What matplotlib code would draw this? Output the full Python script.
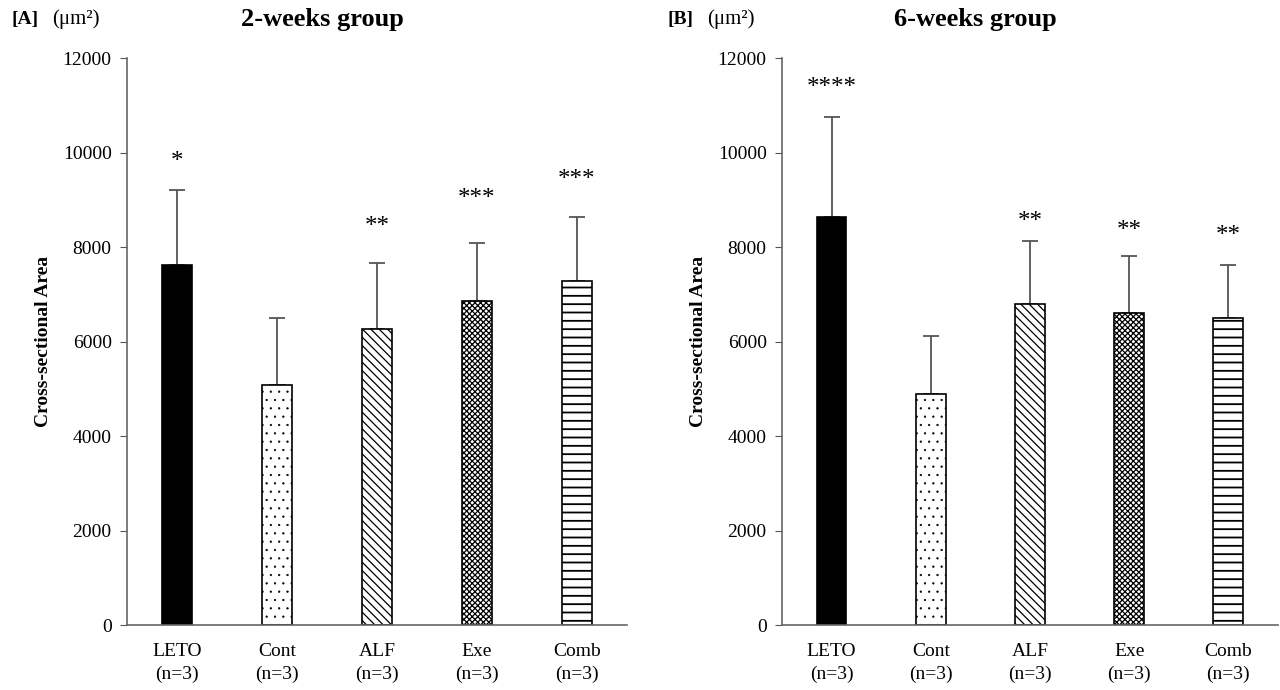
import numpy as np
import matplotlib.pyplot as plt

plt.rcParams['font.family'] = ['Liberation Serif', 'DejaVu Serif']

groups = ['LETO\n(n=3)', 'Cont\n(n=3)', 'ALF\n(n=3)', 'Exe\n(n=3)', 'Comb\n(n=3)']
hatches = ['', '..', '\\\\\\\\', 'xxxxxx', '--']
hatch_lw = [1.0, 0.4, 0.9, 0.9, 1.3]
faces = ['black', 'white', 'white', 'white', 'white']

# 2-weeks group
mean_2w = [7620, 5080, 6265, 6865, 7280]
sd_2w = [1585, 1420, 1400, 1220, 1360]
stars_2w = ['*', '', '**', '***', '***']
star_y_2w = [9800, None, 8420, 9020, 9420]

# 6-weeks group
mean_6w = [8640, 4890, 6790, 6600, 6505]
sd_6w = [2120, 1235, 1340, 1210, 1115]
stars_6w = ['****', '', '**', '**', '**']
star_y_6w = [11370, None, 8520, 8330, 8240]

fig = plt.figure(figsize=(12.8, 6.9), dpi=100)
ax1 = fig.add_axes([0.0992, 0.0942, 0.3906, 0.8217])
ax2 = fig.add_axes([0.6109, 0.0942, 0.3875, 0.8217])

def draw_panel(ax, means, sds, stars, star_y, title, tag):
    x = np.arange(len(groups))
    for i in x:
        with plt.rc_context({'hatch.linewidth': hatch_lw[i]}):
            ax.bar(i, means[i], width=0.3, color=faces[i], edgecolor='black',
                   hatch=hatches[i], linewidth=1.2, zorder=2)
    ax.errorbar(x, means, yerr=[np.zeros(len(sds)), sds], fmt='none',
                ecolor='#555555', elinewidth=1.3, capsize=6, capthick=1.3, zorder=1)
    for i in x:
        if stars[i]:
            ax.text(i, star_y[i], stars[i], ha='center', va='center', fontsize=18)
    ax.set_xlim(-0.5, len(groups) - 0.5)
    ax.set_ylim(0, 12000)
    ax.set_yticks(np.arange(0, 12001, 2000))
    ax.set_xticks(x)
    ax.set_xticklabels(groups, fontsize=14, linespacing=1.45)
    ax.tick_params(axis='x', length=0, pad=13)
    ax.tick_params(axis='y', labelsize=14, length=5, color='#555555', pad=6)
    for s in ['top', 'right']:
        ax.spines[s].set_visible(False)
    for s in ['left', 'bottom']:
        ax.spines[s].set_color('#666666')
        ax.spines[s].set_linewidth(1.2)
    ax.set_ylabel('Cross-sectional Area', fontsize=14, fontweight='bold', labelpad=8)
    ax.text(0.39, 1.068, title, transform=ax.transAxes, ha='center', va='center',
            fontsize=19, fontweight='bold')
    ax.text(-0.23, 1.068, tag, transform=ax.transAxes, ha='left', va='center',
            fontsize=14, fontweight='bold')
    ax.text(-0.15, 1.068, '(\u03bcm\u00b2)', transform=ax.transAxes, ha='left', va='center',
            fontsize=15)

draw_panel(ax1, mean_2w, sd_2w, stars_2w, star_y_2w, '2-weeks group', '[A]')
draw_panel(ax2, mean_6w, sd_6w, stars_6w, star_y_6w, '6-weeks group', '[B]')

fig.savefig('out.png', dpi=100)
